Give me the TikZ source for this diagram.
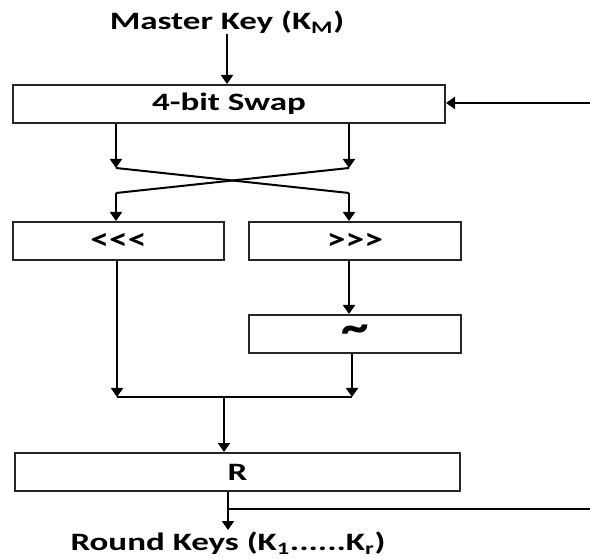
\documentclass[tikz,border=0pt]{standalone}
\usepackage{graphicx}
\usepackage{fontspec}
\setmainfont{Carlito}
\usetikzlibrary{positioning,arrows.meta}
\newcommand{\wtext}[1]{\scalebox{1.4}[1]{#1}}

\begin{document}
\begin{tikzpicture}[x=1pt, y=1pt, line width=2pt, >={Triangle[length=9pt,width=12pt]},
    block/.style={draw=black!85, line width=2pt, minimum height=38pt, inner sep=0pt, font=\bfseries\fontsize{25}{30}\selectfont},
    caption/.style={inner sep=0pt, font=\bfseries\fontsize{25}{30}\selectfont}]
    \useasboundingbox (0,0) rectangle (590,558);

    \node [caption] (master) at (227,536) {\wtext{Master Key (K\textsubscript{M})}};
    \node [block, minimum width=432pt] (swap) at (229,454) {\wtext{4-bit Swap}};
    \node [block, minimum width=211pt, below right=97pt and 0pt of swap.south west] (lsh) {\scalebox{1.5}[1.2]{{<}{<}{<}}};
    \node [block, minimum width=212pt, right=23pt of lsh] (rsh) {\scalebox{1.5}[1.2]{{>}{>}{>}}};
    \node [block, minimum width=212pt, below=53pt of rsh] (notb) {\raisebox{-4pt}{\scalebox{2.2}[2]{\textasciitilde}}};
    \node [block, minimum width=445pt, below right=191pt and 2pt of lsh.south west] (rbox) {\wtext{R}};
    \node [caption] (round) at (228,15) {\wtext{Round Keys (K\textsubscript{1}......K\textsubscript{r})}};

    \coordinate (fb) at (590,455);
    \coordinate (tap) at (590,49);
    \coordinate (ltop) at (116,390);
    \coordinate (rtop) at (349,390);
    \coordinate (lbot) at (116,365);
    \coordinate (rbot) at (349,365);
    \coordinate (ml) at (117,161);
    \coordinate (mr) at (352,161);
    \coordinate (mm) at (224,161);
    \coordinate (out) at (228,28);

    \draw[->] (master.south) -- (master.south |- swap.north);
    \draw[->] (fb) -- (swap.east |- fb);

    % crossing of the two halves
    \draw[->] (ltop |- swap.south) -- (ltop);
    \draw[->] (rtop |- swap.south) -- (rtop);
    \draw (ltop) -- (rbot);
    \draw (rtop) -- (lbot);
    \draw[->] (lbot) -- (lbot |- lsh.north);
    \draw[->] (rbot) -- (rbot |- rsh.north);

    % merge into R
    \draw[->] (ml |- lsh.south) -- (ml);
    \draw[->] (rbot |- rsh.south) -- (rbot |- notb.north);
    \draw[->] (mr |- notb.south) -- (mr);
    \draw (ml) -- (mr);
    \draw[->] (mm) -- (mm |- rbox.north);
    \draw[->] (out |- rbox.south) -- (out);
    \draw (out |- tap) -- (tap);
\end{tikzpicture}
\end{document}
